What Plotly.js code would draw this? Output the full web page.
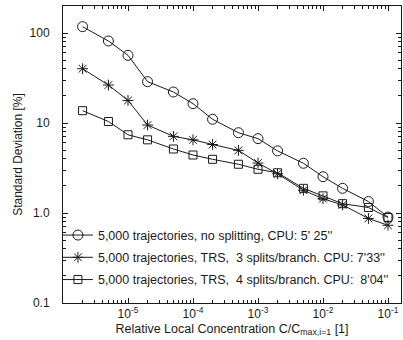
<!DOCTYPE html>
<html>
<head>
<meta charset="utf-8">
<script src="https://cdn.plot.ly/plotly-3.0.1.min.js"></script>
<style>html,body{margin:0;padding:0;background:#fff;}#chart{width:403px;height:340px;}</style>
</head>
<body>
<div id="chart"></div>
<script>
// Relative local concentration (x)
const concentration = [2e-6, 5e-6, 1e-5, 2e-5, 5e-5, 1e-4, 2e-4, 5e-4, 1e-3, 2e-3, 5e-3, 1e-2, 2e-2, 5e-2, 1e-1];
// Standard deviation [%]
const noSplitting = [117.5, 81.5, 56.5, 28.8, 22.1, 16.4, 11.0, 7.8, 6.7, 4.9, 3.57, 2.53, 1.88, 1.34, 0.90];
const trs3Splits  = [40.1, 26.4, 17.8, 9.5, 7.1, 6.5, 5.77, 4.97, 3.59, 2.73, 1.79, 1.44, 1.23, 0.87, 0.73];
const trs4Splits  = [13.7, 10.4, 7.4, 6.5, 5.14, 4.41, 3.95, 3.48, 3.06, 2.80, 1.88, 1.55, 1.27, 1.15, 0.89];

const seriesNames = [
  "5,000 trajectories, no splitting, CPU: 5' 25''",
  "5,000 trajectories, TRS,  3 splits/branch. CPU: 7'33''",
  "5,000 trajectories, TRS,  4 splits/branch. CPU:  8'04''"
];
const xTickVals = [1e-5, 1e-4, 1e-3, 1e-2, 1e-1];
const xTickText = ["10<sup>-5</sup>", "10<sup>-4</sup>", "10<sup>-3</sup>", "10<sup>-2</sup>", "10<sup>-1</sup>"];
const yTickVals = [0.1, 1, 10, 100];
const yTickText = ["0.1", "1.0", "10", "100"];

const ink = "#1a1a1a";
function trace(y, name, symbol, size, group) {
  return {
    x: concentration, y: y, name: name, type: "scatter", mode: "lines+markers",
    legendgroup: group,
    line: {color: ink, width: 1},
    marker: {symbol: symbol, size: size, color: ink, line: {color: ink, width: 1}}
  };
}
const data = [
  trace(noSplitting, seriesNames[0], "circle-open", 10, "a"),
  trace(trs3Splits, seriesNames[1], "asterisk-open", 9, "b"),
  trace(trs4Splits, seriesNames[2], "square-open", 8, "c")
];

const fam = "Liberation Sans, Arial, sans-serif";
const font = {family: fam, size: 12, color: ink};
const layout = {
  width: 403, height: 340,
  margin: {l: 63, r: 2, t: 6, b: 37},
  paper_bgcolor: "#fff", plot_bgcolor: "#fff",
  font: font,
  showlegend: true,
  legend: {x: -0.015, y: 0.278, xanchor: "left", yanchor: "top", bgcolor: "rgba(0,0,0,0)",
           font: {family: fam, size: 12.5, color: ink}, tracegroupgap: 3, itemwidth: 30},
  xaxis: {
    type: "log", range: [-6.0, -0.8],
    tickmode: "array", tickvals: xTickVals, ticktext: xTickText,
    ticks: "inside", ticklen: 5, tickcolor: ink, tickwidth: 1,
    minor: {dtick: "D1", ticks: "inside", ticklen: 3, tickcolor: ink, showgrid: false},
    showline: true, linecolor: ink, linewidth: 1, mirror: "ticks",
    showgrid: false, zeroline: false,
    tickfont: {family: fam, size: 12, color: ink},
    title: {text: "Relative Local Concentration C/C<sub>max,i=1</sub> [1]", font: {family: fam, size: 12.5, color: ink}, standoff: 3}
  },
  yaxis: {
    type: "log", range: [-1, 2.3],
    tickmode: "array", tickvals: yTickVals, ticktext: yTickText,
    ticks: "inside", ticklen: 5, tickcolor: ink, tickwidth: 1,
    minor: {dtick: "D1", ticks: "inside", ticklen: 3, tickcolor: ink, showgrid: false},
    showline: true, linecolor: ink, linewidth: 1, mirror: "ticks",
    showgrid: false, zeroline: false,
    ticklabelstandoff: 10,
    tickfont: {family: fam, size: 12, color: ink},
    title: {text: "Standard Deviation [%]", font: {family: fam, size: 12, color: ink}, standoff: 4}
  }
};
Plotly.newPlot("chart", data, layout, {displayModeBar: false, staticPlot: true});
</script>
</body>
</html>
